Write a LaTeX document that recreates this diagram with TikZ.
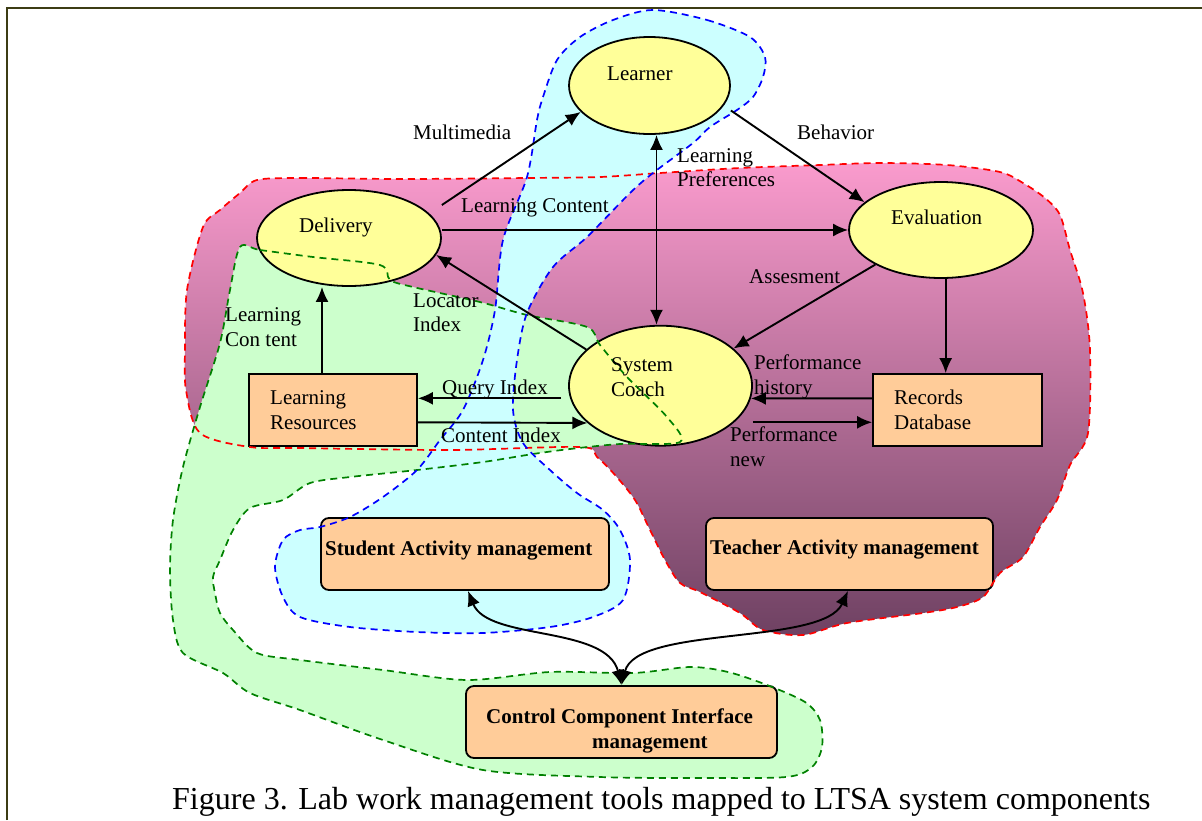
\documentclass[tikz,border=0pt]{standalone}
\usepackage{fontspec}
\setmainfont{Liberation Serif}
\usetikzlibrary{arrows.meta,calc,shapes.geometric}
\definecolor{nodeyellow}{HTML}{FFFF99}
\definecolor{boxorange}{HTML}{FFCC99}
\definecolor{greenfill}{HTML}{CCFFCC}
\definecolor{greenline}{HTML}{008000}
\definecolor{bluefill}{HTML}{CCFFFF}
\definecolor{blueline}{HTML}{0000FF}
\definecolor{redline}{HTML}{FF0000}
\definecolor{pinktop}{RGB}{250,155,205}
\definecolor{pinkmid}{RGB}{222,132,178}
\definecolor{pinkbot}{RGB}{110,65,98}
\definecolor{framecol}{RGB}{60,60,20}
\begin{document}
\begin{tikzpicture}[x=1pt,y=-1pt,
  ell/.style={ellipse, draw=black, line width=1.8pt, fill=nodeyellow, inner sep=0pt},
  rbox/.style={rectangle, draw=black, line width=1.8pt, fill=boxorange, inner sep=0pt},
  sbox/.style={rectangle, rounded corners=8pt, draw=black, line width=1.8pt, fill=boxorange, inner sep=0pt},
  lbl/.style={font=\fontsize{21}{24.5}\selectfont, inner sep=0pt, align=left, anchor=base west},
  blbl/.style={font=\fontsize{21}{24.5}\selectfont\bfseries, inner sep=0pt, anchor=base west},
  arr/.style={-{Latex[length=15pt,width=13pt]}, line width=1.9pt},
  darr/.style={{Latex[length=15pt,width=13pt]}-{Latex[length=15pt,width=13pt]}, line width=1.9pt},
  blobline/.style={line width=1.7pt, dash pattern=on 7pt off 5pt}
]
\useasboundingbox (0,0) rectangle (1202,820);
\fill[white] (0,0) rectangle (1202,820);

% ---- region fills ----
\shade[top color=pinktop, middle color=pinkmid, bottom color=pinkbot]
  plot[smooth cycle, tension=0.5] coordinates {(257,180) (300,178) (400,179) (527,178) (600,177) (660,173) (740,168) (820,165) (880,163) (947,165) (1000,172) (1023,183) (1045,198) (1060,215) (1070,250) (1083,293) (1090,350) (1088,433) (1070,465) (1057,500) (1040,527) (1023,557) (1000,573) (983,597) (957,607) (923,613) (847,623) (803,635) (763,630) (740,613) (700,592) (680,583) (665,560) (650,530) (635,500) (615,475) (597,457) (580,447) (450,450) (300,448) (250,447) (200,433) (186,390) (185,350) (187,290) (203,227) (220,210) (240,193)};
\fill[greenfill]
  plot[smooth cycle, tension=0.5] coordinates {(240,247) (260,250) (313,257) (380,265) (390,280) (413,287) (480,302) (527,315) (587,327) (600,345) (627,377) (667,417) (680,442) (620,444) (570,449) (533,454) (483,462) (417,470) (350,477) (310,483) (283,500) (250,508) (233,530) (220,560) (213,577) (215,593) (220,613) (233,630) (257,653) (300,660) (383,670) (467,680) (550,672) (633,673) (690,667) (728,672) (767,685) (805,702) (820,720) (822,747) (812,767) (786,777) (700,778) (600,777) (483,770) (383,740) (300,710) (250,693) (223,673) (183,653) (173,620) (170,570) (173,520) (183,467) (200,407) (220,343) (230,290)};
\fill[bluefill]
  plot[smooth cycle, tension=0.5] coordinates {(653,10) (707,20) (750,37) (765,57) (763,77) (753,97) (737,110) (710,127) (693,143) (653,173) (630,193) (587,237) (553,267) (527,313) (517,360) (513,410) (523,443) (550,470) (577,493) (603,510) (620,530) (630,560) (623,600) (593,617) (550,627) (483,633) (417,632) (350,627) (300,617) (283,597) (275,567) (283,540) (300,530) (320,527) (350,517) (383,497) (417,470) (440,440) (463,410) (483,360) (495,310) (503,240) (527,177) (537,120) (543,97) (557,60) (580,37) (613,20)};

% ---- frame ----
\draw[framecol, line width=2pt] (7,820) -- (7,8) -- (1202,8);

% ---- nodes ----
\node[ell, minimum width=161pt, minimum height=97pt] (learner) at (649.5,85.5) {};
\node[ell, minimum width=184pt, minimum height=96pt] (delivery) at (349,238) {};
\node[ell, minimum width=184pt, minimum height=96pt] (evaluation) at (941,230) {};
\node[ell, minimum width=183pt, minimum height=120pt] (coach) at (660.5,385.7) {};
\node[rbox, minimum width=168pt, minimum height=72pt] (lr) at (333,410) {};
\node[rbox, minimum width=169pt, minimum height=72pt] (rd) at (957.5,410) {};
\node[sbox, minimum width=288pt, minimum height=72pt] (sa) at (465,554) {};
\node[sbox, minimum width=287pt, minimum height=72pt] (ta) at (849.5,554) {};
\node[sbox, minimum width=311pt, minimum height=72pt] (cc) at (621.5,722) {};

% ---- region borders ----
\draw[redline, blobline]
  plot[smooth cycle, tension=0.5] coordinates {(257,180) (300,178) (400,179) (527,178) (600,177) (660,173) (740,168) (820,165) (880,163) (947,165) (1000,172) (1023,183) (1045,198) (1060,215) (1070,250) (1083,293) (1090,350) (1088,433) (1070,465) (1057,500) (1040,527) (1023,557) (1000,573) (983,597) (957,607) (923,613) (847,623) (803,635) (763,630) (740,613) (700,592) (680,583) (665,560) (650,530) (635,500) (615,475) (597,457) (580,447) (450,450) (300,448) (250,447) (200,433) (186,390) (185,350) (187,290) (203,227) (220,210) (240,193)};
\draw[greenline, blobline]
  plot[smooth cycle, tension=0.5] coordinates {(240,247) (260,250) (313,257) (380,265) (390,280) (413,287) (480,302) (527,315) (587,327) (600,345) (627,377) (667,417) (680,442) (620,444) (570,449) (533,454) (483,462) (417,470) (350,477) (310,483) (283,500) (250,508) (233,530) (220,560) (213,577) (215,593) (220,613) (233,630) (257,653) (300,660) (383,670) (467,680) (550,672) (633,673) (690,667) (728,672) (767,685) (805,702) (820,720) (822,747) (812,767) (786,777) (700,778) (600,777) (483,770) (383,740) (300,710) (250,693) (223,673) (183,653) (173,620) (170,570) (173,520) (183,467) (200,407) (220,343) (230,290)};
\draw[blueline, blobline]
  plot[smooth cycle, tension=0.5] coordinates {(653,10) (707,20) (750,37) (765,57) (763,77) (753,97) (737,110) (710,127) (693,143) (653,173) (630,193) (587,237) (553,267) (527,313) (517,360) (513,410) (523,443) (550,470) (577,493) (603,510) (620,530) (630,560) (623,600) (593,617) (550,627) (483,633) (417,632) (350,627) (300,617) (283,597) (275,567) (283,540) (300,530) (320,527) (350,517) (383,497) (417,470) (440,440) (463,410) (483,360) (495,310) (503,240) (527,177) (537,120) (543,97) (557,60) (580,37) (613,20)};

% ---- connectors ----
\draw[arr] ($(delivery.east)+(0,-33)$) -- (learner.201);
\draw[arr] ($(learner.east)+(0,25)$) -- (evaluation.160);
\draw[arr] (delivery.east |- evaluation.west) -- (evaluation.west);
\draw[darr] ([xshift=7pt]learner.south) -- ([xshift=7pt]learner.south |- coach.north);
\draw[arr] (evaluation.south west) -- (coach.27);
\draw[arr] ([xshift=4.7pt]evaluation.south) -- ([xshift=4.7pt]evaluation.south |- rd.north);
\draw[arr] (coach.154) -- (delivery.-11);
\draw[arr] ([xshift=-11pt]lr.north) -- ([xshift=-11pt]lr.north |- delivery.south);
\draw[arr] ($(coach.west)+(-7,12.6)$) -- ($(lr.east)+(0,-11.7)$);
\draw[arr] ($(lr.east)+(0,12.3)$) -- (coach.207);
\draw[arr] ($(rd.west)+(0,-11.7)$) -- (coach.-8);
\draw[arr] ($(coach.east)+(0,36.6)$) -- ($(rd.west)+(0,12.3)$);
\draw[darr] (cc.north) .. controls +(-15,-60) and +(20,50) .. ([xshift=3pt]sa.south);
\draw[darr] (cc.north) .. controls +(15,-60) and +(-25,55) .. ([xshift=-1.5pt]ta.south);

% ---- texts ----
\node[lbl] (t-learner) at (607,80) {Learner};
\node[lbl] (t-delivery) at (299,232) {Delivery};
\node[lbl] (t-eval) at (891,224) {Evaluation};
\node[lbl] (t-coach) at (611,396) {System\\Coach};
\node[lbl] (t-lr) at (270,429) {Learning\\Resources};
\node[lbl] (t-rd) at (894,429) {Records\\Database};
\node[lbl] (t-mm) at (413,139) {Multimedia};
\node[lbl] (t-beh) at (797,139) {Behavior};
\node[lbl] (t-lc) at (461,212) {Learning Content};
\node[lbl] (t-lp) at (677,186.5) {Learning\\Preferences};
\node[lbl] (t-as) at (749,283) {Assesment};
\node[lbl] (t-li) at (413,331.5) {Locator\\Index};
\node[lbl] (t-lct) at (225,346) {Learning\\Con tent};
\node[lbl] (t-qi) at (442,394) {Query Index};
\node[lbl] (t-ci) at (441,442) {Content Index};
\node[lbl] (t-ph) at (754,394) {Performance\\history};
\node[lbl] (t-pn) at (730,466) {Performance\\new};
\node[blbl] (t-sa) at (325,555) {Student Activity management};
\node[blbl] (t-ta) at (710,554) {Teacher Activity management};
\node[blbl] (t-cc1) at (486,723) {Control Component Interface};
\node[blbl] (t-cc2) at (592,748) {management};
\node[font=\fontsize{32}{36}\selectfont, inner sep=0pt, anchor=base west] (caption) at (172,809) {Figure 3. Lab work management tools mapped to LTSA system components};
\end{tikzpicture}
\end{document}
